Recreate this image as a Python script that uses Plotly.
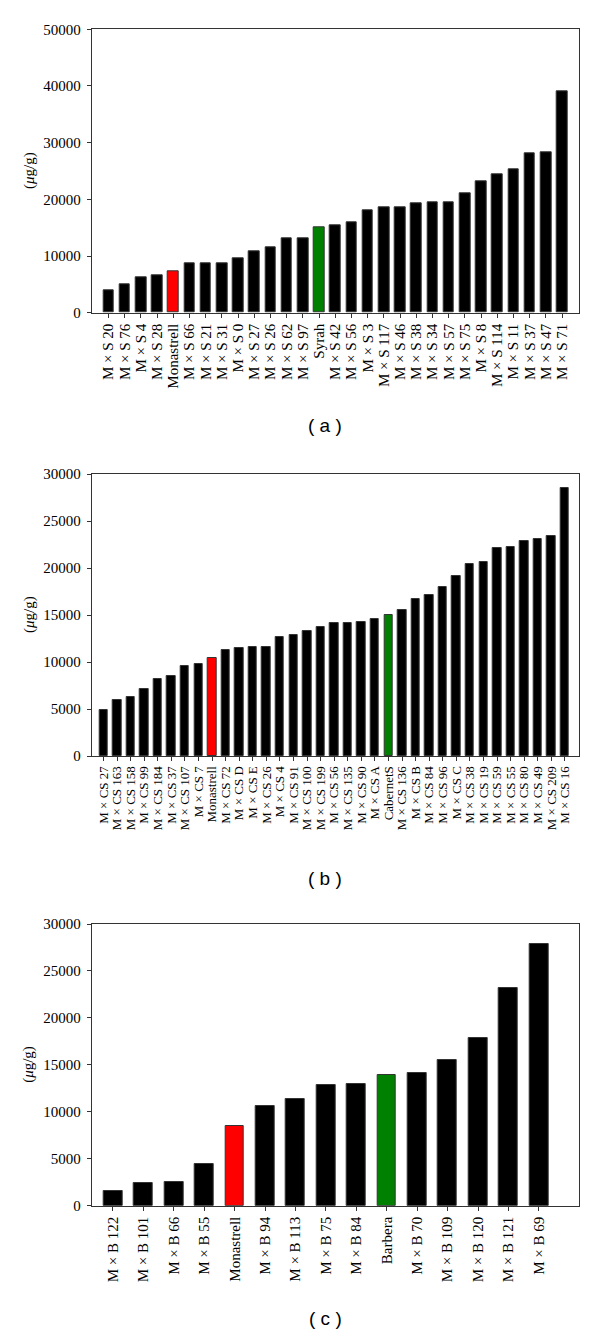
import plotly.graph_objects as go

# panel (a): Monastrell x Syrah
cats_a = ["M × S 20", "M × S 76", "M × S 4", "M × S 28", "Monastrell", "M × S 66",
          "M × S 21", "M × S 31", "M × S 0", "M × S 27", "M × S 26", "M × S 62",
          "M × S 97", "Syrah", "M × S 42", "M × S 56", "M × S 3", "M × S 117",
          "M × S 46", "M × S 38", "M × S 34", "M × S 57", "M × S 75", "M × S 8",
          "M × S 114", "M × S 11", "M × S 37", "M × S 47", "M × S 71"]
vals_a = [3900, 5000, 6200, 6650, 7350, 8650, 8750, 8800, 9600, 10800, 11500, 13050,
          13200, 15050, 15500, 15900, 18050, 18600, 18600, 19350, 19500, 19500, 21050,
          23100, 24350, 25350, 28050, 28350, 39050]

# panel (b): Monastrell x Cabernet Sauvignon
cats_b = ["M × CS 27", "M × CS 163", "M × CS 158", "M × CS 99", "M × CS 184",
          "M × CS 37", "M × CS 107", "M × CS 7", "Monastrell", "M × CS 72", "M × CS D",
          "M × CS E", "M × CS 26", "M × CS 4", "M × CS 91", "M × CS 100", "M × CS 199",
          "M × CS 56", "M × CS 135", "M × CS 90", "M × CS A", "CabernetS", "M × CS 136",
          "M × CS B", "M × CS 84", "M × CS 96", "M × CS C", "M × CS 38", "M × CS 19",
          "M × CS 59", "M × CS 55", "M × CS 80", "M × CS 49", "M × CS 209", "M × CS 16"]
vals_b = [4850, 5980, 6260, 7140, 8160, 8510, 9570, 9740, 10410, 11330, 11500, 11570,
          11640, 12700, 12840, 13330, 13720, 14100, 14170, 14280, 14560, 14980, 15510,
          16710, 17130, 17970, 19170, 20470, 20650, 22100, 22230, 22830, 23040, 23430,
          28530]

# panel (c): Monastrell x Barbera
cats_c = ["M × B 122", "M × B 101", "M × B 66", "M × B 55", "Monastrell", "M × B 94",
          "M × B 113", "M × B 75", "M × B 84", "Barbera", "M × B 70", "M × B 109",
          "M × B 120", "M × B 121", "M × B 69"]
vals_c = [1590, 2440, 2510, 4490, 8450, 10570, 11380, 12900, 12970, 13890, 14100,
          15480, 17840, 23180, 27920]

parents = ["Syrah", "CabernetS", "Barbera"]


def bar_colors(cats):
    out = []
    for c in cats:
        if c == "Monastrell":
            out.append("#ff0000")
        elif c in parents:
            out.append("#008000")
        else:
            out.append("#000000")
    return out


SERIF = "Liberation Serif, Times New Roman, serif"
# the page body has an 8px margin, so the figure sits at (8, 8)
OFF = 8.0
W = 600.0 - OFF
H = 1335.0 - OFF


def px_x(x):
    return (x - OFF) / W


def px_y(y):
    return 1 - (y - OFF) / H


fig = go.Figure()
panels = [
    (cats_a, vals_a, 0.66, 15),
    (cats_b, vals_b, 0.62, 13),
    (cats_c, vals_c, 0.62, 15),
]
for i, (cats, vals, w, fs) in enumerate(panels):
    sfx = "" if i == 0 else str(i + 1)
    fig.add_trace(go.Bar(
        x=cats, y=vals, width=w,
        marker=dict(color=bar_colors(cats), line=dict(color="#333333", width=1)),
        xaxis="x" + sfx, yaxis="y" + sfx, showlegend=False,
    ))

# pixel box of each panel: (top, bottom)
boxes = [(29.3, 312.7), (474, 756), (924, 1205.7)]
xranges = [[-1.04, 29.04], [-0.87, 35.04], [-0.7, 15.32]]
yranges = [[0, 50000], [0, 30000], [0, 30000]]
dticks = [10000, 5000, 5000]
xdom = [px_x(91.7), px_x(579)]

layout = dict(
    width=W, height=H,
    margin=dict(l=0, r=0, t=0, b=0, autoexpand=False),
    paper_bgcolor="white", plot_bgcolor="white",
    bargap=0,
)
for i in range(3):
    sfx = "" if i == 0 else str(i + 1)
    top, bot = boxes[i]
    cats = panels[i][0]
    layout["xaxis" + sfx] = dict(
        domain=xdom, anchor="y" + sfx, type="category",
        range=xranges[i], tickangle=-90,
        tickmode="array", tickvals=cats, ticktext=cats,
        tickfont=dict(family=SERIF, size=panels[i][3], color="black"),
        ticks="outside", ticklen=4, tickcolor="#333", showline=True,
        linecolor="#333", linewidth=1, mirror=True, showgrid=False,
    )
    layout["yaxis" + sfx] = dict(
        domain=[px_y(bot), px_y(top)], anchor="x" + sfx,
        range=yranges[i], dtick=dticks[i], tickformat="d",
        tickfont=dict(family=SERIF, size=15, color="black"),
        ticks="outside", ticklen=4, tickcolor="#333", showline=True,
        linecolor="#333", linewidth=1, mirror=True, showgrid=False,
        zeroline=False, ticklabelstandoff=3,
    )

fig.update_layout(**layout)

# y titles and panel letters
for i, (top, bot) in enumerate(boxes):
    fig.add_annotation(
        text="(<i>μ</i>g/g)", xref="paper", yref="paper",
        x=px_x(29), y=px_y((top + bot) / 2), xanchor="center", yanchor="middle",
        showarrow=False, textangle=-90,
        font=dict(family=SERIF, size=15, color="black"),
    )

letter_y = [425, 878, 1318]
for lab, ly in zip(["( a )", "( b )", "( c )"], letter_y):
    fig.add_annotation(
        text=lab, xref="paper", yref="paper", x=px_x(325), y=px_y(ly),
        xanchor="center", yanchor="middle", showarrow=False,
        font=dict(family="Liberation Sans, Arial, sans-serif", size=19, color="black"),
    )

fig.write_html("out.html")
